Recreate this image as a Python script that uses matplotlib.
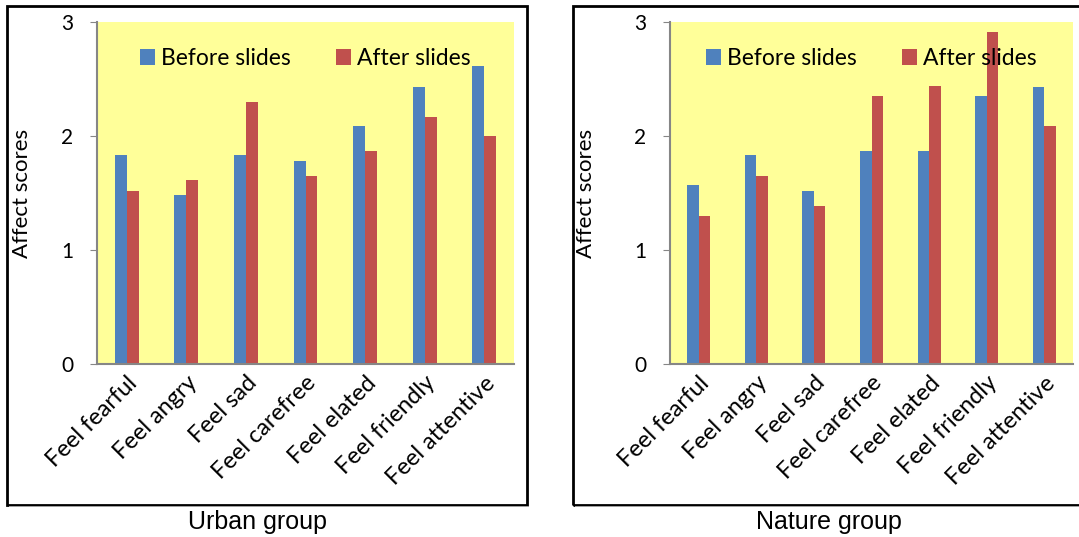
import matplotlib
matplotlib.use("Agg")
import matplotlib.pyplot as plt
import matplotlib.transforms as mtransforms
from matplotlib.patches import Rectangle
import numpy as np

plt.rcParams['font.family'] = ['Lato', 'DejaVu Sans']

categories = ["Feel fearful", "Feel angry", "Feel sad", "Feel carefree",
              "Feel elated", "Feel friendly", "Feel attentive"]
series_names = ["Before slides", "After slides"]

urban_before = [1.83, 1.48, 1.83, 1.78, 2.09, 2.43, 2.61]
urban_after = [1.52, 1.61, 2.30, 1.65, 1.87, 2.17, 2.00]
nature_before = [1.57, 1.83, 1.52, 1.87, 1.87, 2.35, 2.43]
nature_after = [1.30, 1.65, 1.39, 2.35, 2.44, 2.91, 2.09]

group_titles = ["Urban group", "Nature group"]
y_ticks = [0, 1, 2, 3]

blue = "#4F81BD"
red = "#C0504D"
yellow = "#FFFF99"
axis_gray = "#868686"

W, H = 1079, 537
fig = plt.figure(figsize=(W / 100, H / 100), dpi=100)


def px(x0, y0, x1, y1):
    # pixel box (top-left origin) -> figure fraction rect
    return [x0 / W, 1 - y1 / H, (x1 - x0) / W, (y1 - y0) / H]


panels = [
    dict(ax=px(97, 22, 514, 364), box=(7, 6, 527, 505), before=urban_before,
         after=urban_after, title=group_titles[0], ylab_x=32, title_x=257),
    dict(ax=px(670, 22, 1073, 364), box=(573, 6, 1085, 505), before=nature_before,
         after=nature_after, title=group_titles[1], ylab_x=596, title_x=829),
]

x = np.arange(len(categories))
bw = 0.2
shift = mtransforms.ScaledTranslation(-6 / 100, 0, fig.dpi_scale_trans)

for p in panels:
    # outer frame
    bx0, by0, bx1, by1 = p["box"]
    fig.patches.append(Rectangle((bx0 / W, 1 - by1 / H), (bx1 - bx0) / W, (by1 - by0) / H,
                                 transform=fig.transFigure, fill=False,
                                 edgecolor="black", linewidth=2))
    fig.patches.append(Rectangle((bx0 / W + 0.002, 1 - by1 / H - 0.004), (bx1 - bx0) / W, 0.002,
                                 transform=fig.transFigure, color="#A0A0A0", linewidth=0))

    ax = fig.add_axes(p["ax"])
    ax.set_facecolor(yellow)
    ax.bar(x - bw / 2, p["before"], bw, color=blue, label=series_names[0])
    ax.bar(x + bw / 2, p["after"], bw, color=red, label=series_names[1])
    ax.set_xlim(-0.5, len(categories) - 0.5)
    ax.set_ylim(0, 3)
    ax.set_yticks(y_ticks)
    ax.set_yticklabels([str(t) for t in y_ticks], fontsize=15)
    ax.set_xticks(x)
    ax.set_xticklabels(categories, rotation=45, ha="right", rotation_mode="anchor",
                       fontsize=17)
    for lab in ax.get_xticklabels():
        lab.set_transform(lab.get_transform() + shift)
    ax.tick_params(axis="x", length=0, pad=6)
    ax.tick_params(axis="y", length=5, color=axis_gray, pad=12)
    for s in ["top", "right"]:
        ax.spines[s].set_visible(False)
    for s in ["left", "bottom"]:
        ax.spines[s].set_color(axis_gray)
        ax.spines[s].set_linewidth(1.5)
    ax.set_ylabel("Affect scores", fontsize=16)
    ax.yaxis.set_label_coords((p["ylab_x"] - p["ax"][0] * W) / (p["ax"][2] * W), 0.5)

    ax.legend(loc="center", bbox_to_anchor=(0.5, 0.893), ncol=2, frameon=False,
              fontsize=16.5, handlelength=0.65, handleheight=0.65, handletextpad=0.25,
              columnspacing=2.0, borderaxespad=0)

    fig.text(p["title_x"] / W, 1 - 522 / H, p["title"], ha="center", va="center",
             fontsize=18, family=["Liberation Sans Narrow", "Liberation Sans", "DejaVu Sans"])

fig.savefig("out.png", dpi=100)
